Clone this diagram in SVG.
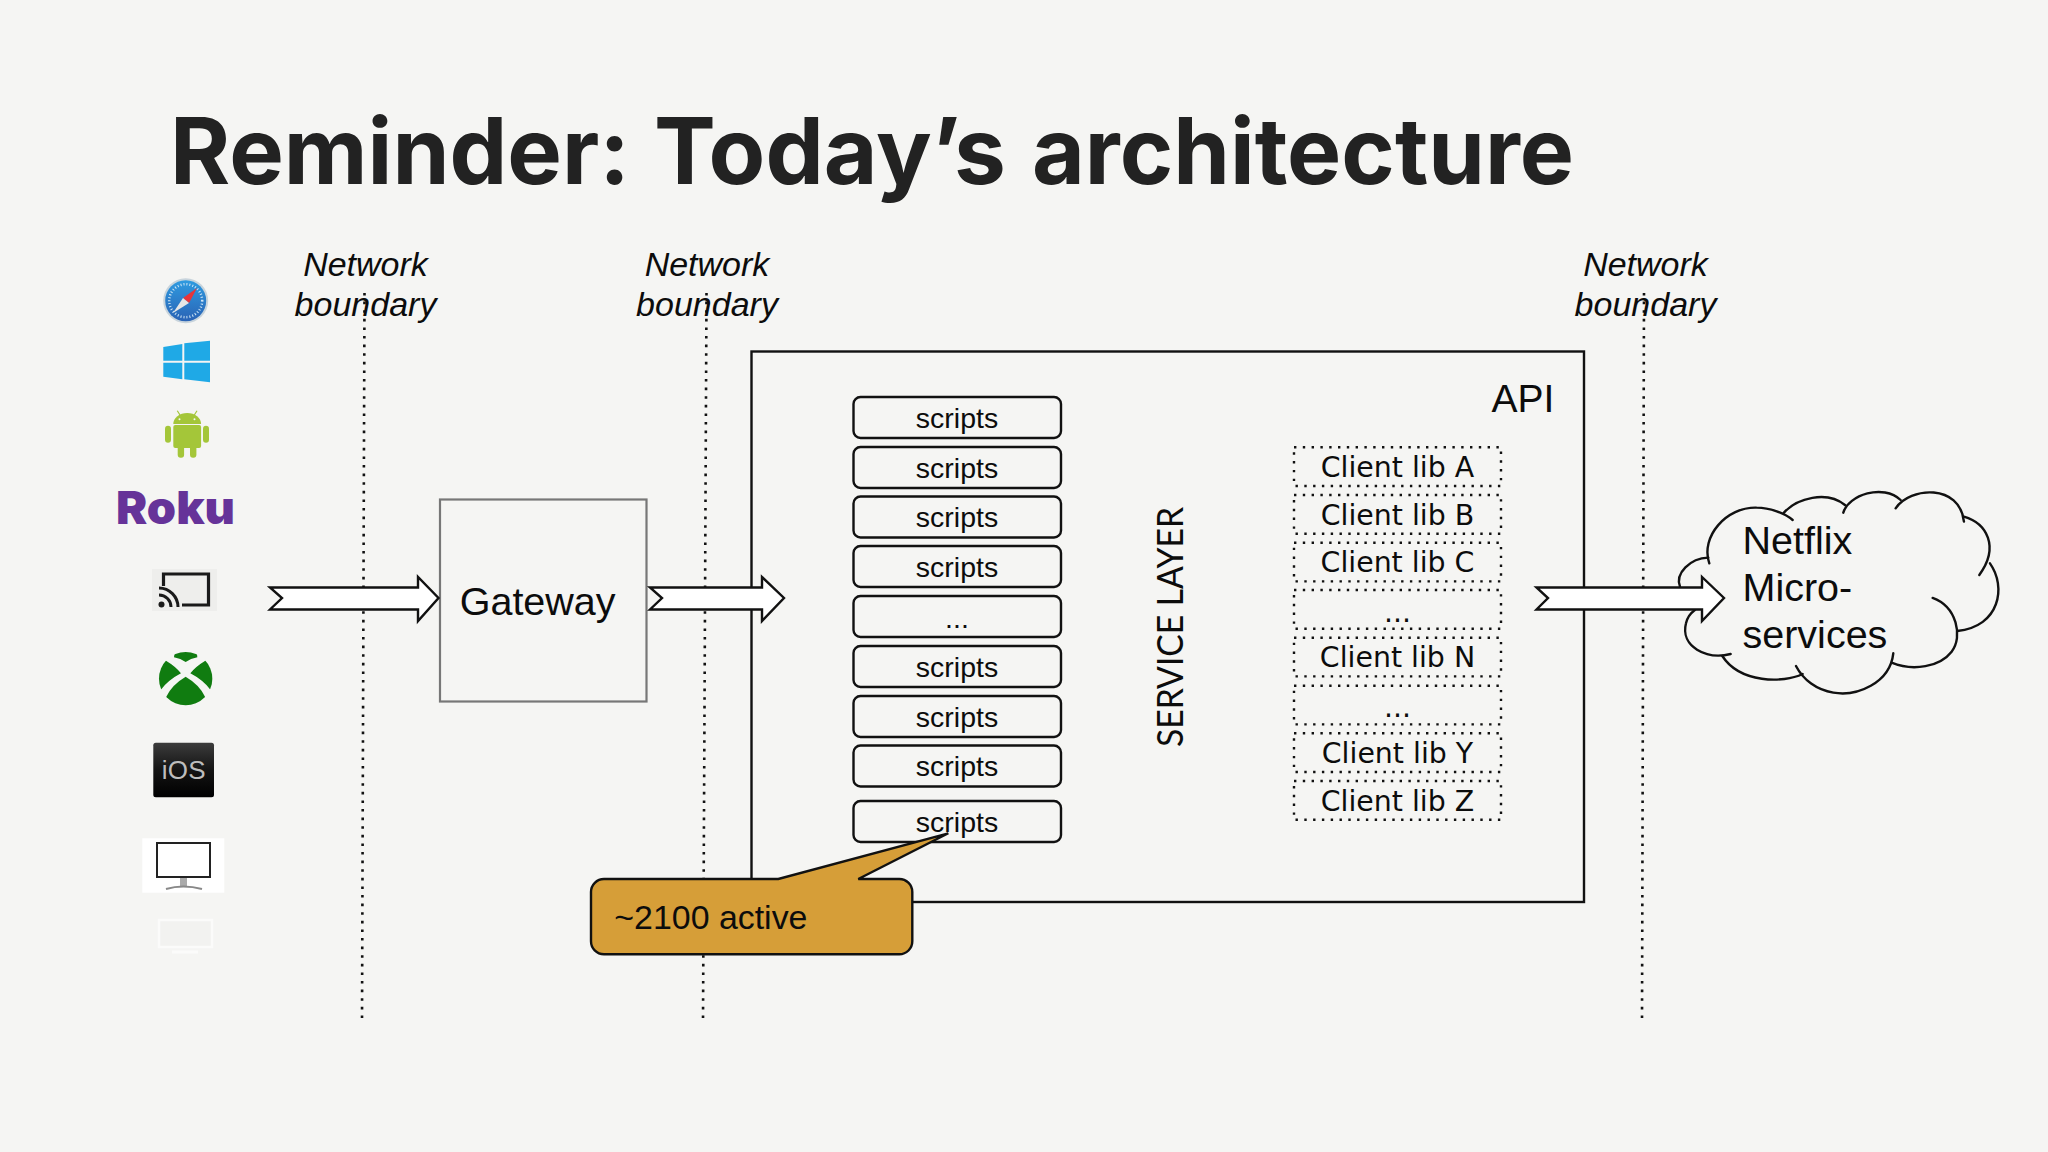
<svg xmlns="http://www.w3.org/2000/svg" width="2048" height="1152" viewBox="0 0 2048 1152">
<style>
text{font-family:"Liberation Sans",Arial,sans-serif;fill:#0c0c0c}
.nb{font-size:34px;font-style:italic;text-anchor:middle}
.dot{stroke:#111;stroke-width:2.6;stroke-dasharray:2.6 6;fill:none}
.arrow{fill:#fff;stroke:#111;stroke-width:2.4;stroke-linejoin:miter}
.sb{fill:none;stroke:#111;stroke-width:2.4}
.st{font-size:28.5px;text-anchor:middle}
.cb{fill:none;stroke:#111;stroke-width:2.4;stroke-dasharray:2.4 6.4}
.ct{font-family:"DejaVu Sans",sans-serif;font-size:28.4px;text-anchor:middle}
.big{font-size:39.5px}
</style>
<defs>
<linearGradient id="iosg" x1="0" y1="0" x2="0" y2="1"><stop offset="0" stop-color="#3c3c3c"/><stop offset="0.5" stop-color="#141414"/><stop offset="1" stop-color="#000"/></linearGradient>
<linearGradient id="safg" x1="0" y1="0" x2="0" y2="1"><stop offset="0" stop-color="#2f9be0"/><stop offset="1" stop-color="#2a63b5"/></linearGradient>
<clipPath id="xclip"><circle cx="257" cy="116" r="80"/></clipPath>
</defs>
<rect width="2048" height="1152" fill="#f5f5f3"/>
<text id="title" y="184" font-size="92" font-weight="700" style="font-family:Inter,'Liberation Sans',sans-serif;fill:#222"><tspan x="170" textLength="460" lengthAdjust="spacingAndGlyphs">Reminder:</tspan> <tspan x="654" textLength="352" lengthAdjust="spacingAndGlyphs">Today’s</tspan> <tspan x="1032" textLength="542" lengthAdjust="spacingAndGlyphs">architecture</tspan></text>

<g id="boundaries">
<path class="dot" d="M364.500 293L362 1022"/>
<path class="dot" d="M706.500 293L703 1022"/>
<path class="dot" d="M1644 293L1642 1022"/>
<text class="nb" x="365.500" y="275.500">Network</text><text class="nb" x="365.500" y="316">boundary</text>
<text class="nb" x="707" y="275.500">Network</text><text class="nb" x="707" y="316">boundary</text>
<text class="nb" x="1645.500" y="275.500">Network</text><text class="nb" x="1645.500" y="316">boundary</text>
</g>

<g id="icons">
<g id="safari"><circle cx="185.700" cy="300.700" r="22.500" fill="#c8d4dc"/><circle cx="185.700" cy="300.700" r="20.500" fill="url(#safg)"/><circle cx="185.700" cy="300.700" r="16.500" fill="none" stroke="#cfe6f6" stroke-width="2.500" stroke-dasharray="1 2"/><polygon points="197,288 183,298 189,303" fill="#e8343a"/><polygon points="173,313 183,298 189,303" fill="#e6e6e6"/></g>
<g id="windows" fill="#1fa9e6"><polygon points="163.300,347 182.300,344 182.300,360.700 163.300,360.700"/><polygon points="184.300,343.300 210,340.700 210,360.700 184.300,360.700"/><polygon points="163.300,362.700 182.300,362.700 182.300,379.300 163.300,376.700"/><polygon points="184.300,362.700 210,362.700 210,382.300 184.300,379.300"/></g>
<g id="android" fill="#a4c639"><path d="M173.300 424a13.900 11 0 0 1 27.800 0z"/><rect x="173.300" y="425" width="27.800" height="23" rx="2"/><rect x="165" y="425.700" width="6" height="17" rx="3"/><rect x="203" y="425.700" width="6" height="17" rx="3"/><rect x="177.700" y="444" width="6.400" height="13.700" rx="3"/><rect x="190" y="444" width="6.400" height="13.700" rx="3"/><path d="M177.300 410.700L180 415M197 410.700L194.300 415" stroke="#a4c639" stroke-width="1.200"/><circle cx="179.500" cy="419.300" r="1" fill="#f5f5f3"/><circle cx="194.500" cy="419.300" r="1" fill="#f5f5f3"/></g>
<text id="roku" x="116" y="524" font-size="46" font-weight="900" textLength="119" lengthAdjust="spacingAndGlyphs" style="font-family:Inter,'Liberation Sans',sans-serif;fill:#663399">Roku</text>
<g id="cast"><rect x="152" y="569" width="65" height="42" fill="#eeeeec"/><path d="M163.500 586V574H208.500V605H182" fill="none" stroke="#1a1a1a" stroke-width="3.200"/><path d="M159 588A19 19 0 0 1 178 607M159 595A12 12 0 0 1 171 607" fill="none" stroke="#1a1a1a" stroke-width="3"/><circle cx="161.500" cy="604.500" r="3" fill="#1a1a1a"/></g>
<g id="xbox" transform="translate(100 640) scale(.3333)"><g clip-path="url(#xclip)" fill="#107c10">
<path d="M225 30H290L292 52Q272 55 257 66Q242 55 222 52Z"/>
<path d="M160 30L198 62Q228 80 243 100Q205 120 184 148L160 160Z"/>
<path d="M354 30L316 62Q286 80 271 100Q309 120 330 148L354 160Z"/>
<path d="M257 110Q300 135 316 172V200H198V172Q214 135 257 110Z"/>
</g></g>
<g id="ios"><rect x="153.300" y="742.700" width="60.700" height="54.600" rx="2.500" fill="url(#iosg)"/><text x="183.700" y="779" font-size="26" text-anchor="middle" textLength="44" style="fill:#bdbdbd">iOS</text></g>
<g id="monitor"><rect x="142.300" y="838.300" width="82" height="54.400" fill="#fff"/><rect x="157" y="843" width="53" height="34" fill="#fff" stroke="#222" stroke-width="2"/><rect x="180" y="878" width="7" height="8" fill="#aaa"/><path d="M166 889Q183 884 202 889" fill="none" stroke="#888" stroke-width="2"/></g>
<g id="monitor-faint" fill="none" stroke="#fbfbfa" stroke-width="2.500"><rect x="159" y="920" width="53" height="27" fill="#f2f2f0"/><path d="M172 952H198" stroke-width="3"/></g>
</g>

<g id="api"><rect x="751.500" y="351.500" width="832.500" height="550.500" fill="none" stroke="#111" stroke-width="2.400"/><text x="1491.500" y="411.500" font-size="39">API</text></g>

<g id="scripts">
<g id="s1"><rect class="sb" x="853.500" y="397" width="207.500" height="41" rx="7"/><text class="st" x="957" y="428">scripts</text></g>
<g id="s2"><rect class="sb" x="853.500" y="447" width="207.500" height="41" rx="7"/><text class="st" x="957" y="478">scripts</text></g>
<g id="s3"><rect class="sb" x="853.500" y="496.500" width="207.500" height="41" rx="7"/><text class="st" x="957" y="527">scripts</text></g>
<g id="s4"><rect class="sb" x="853.500" y="546" width="207.500" height="41" rx="7"/><text class="st" x="957" y="577">scripts</text></g>
<g id="s5"><rect class="sb" x="853.500" y="596" width="207.500" height="41" rx="7"/><text class="st" x="957" y="627.500">...</text></g>
<g id="s6"><rect class="sb" x="853.500" y="646" width="207.500" height="41" rx="7"/><text class="st" x="957" y="677">scripts</text></g>
<g id="s7"><rect class="sb" x="853.500" y="696" width="207.500" height="41" rx="7"/><text class="st" x="957" y="726.500">scripts</text></g>
<g id="s8"><rect class="sb" x="853.500" y="745.500" width="207.500" height="41" rx="7"/><text class="st" x="957" y="776">scripts</text></g>
<g id="s9"><rect class="sb" x="853.500" y="801" width="207.500" height="41" rx="7"/><text class="st" x="957" y="832">scripts</text></g>
</g>

<text id="service-layer" transform="translate(1182.700 627) rotate(-90)" font-size="36" text-anchor="middle" textLength="240" lengthAdjust="spacingAndGlyphs" style="font-family:Lato,'Liberation Sans',sans-serif">SERVICE LAYER</text>

<g id="clients">
<g id="c1"><rect class="cb" x="1294" y="447.300" width="207" height="38.700"/><text class="ct" x="1397.500" y="477">Client lib A</text></g>
<g id="c2"><rect class="cb" x="1294" y="495" width="207" height="38.700"/><text class="ct" x="1397.500" y="524.500">Client lib B</text></g>
<g id="c3"><rect class="cb" x="1294" y="542.700" width="207" height="38.700"/><text class="ct" x="1397.500" y="572">Client lib C</text></g>
<g id="c4"><rect class="cb" x="1294" y="590" width="207" height="38.700"/><text class="ct" x="1397.500" y="621.500">...</text></g>
<g id="c5"><rect class="cb" x="1294" y="637.700" width="207" height="38.700"/><text class="ct" x="1397.500" y="667">Client lib N</text></g>
<g id="c6"><rect class="cb" x="1294" y="685.700" width="207" height="38.700"/><text class="ct" x="1397.500" y="717">...</text></g>
<g id="c7"><rect class="cb" x="1294" y="733.300" width="207" height="38.700"/><text class="ct" x="1397.500" y="763">Client lib Y</text></g>
<g id="c8"><rect class="cb" x="1294" y="781" width="207" height="38.700"/><text class="ct" x="1397.500" y="810.500">Client lib Z</text></g>
</g>

<g id="gateway"><rect x="440" y="499.500" width="206.500" height="202" fill="#f5f5f3" stroke="#777" stroke-width="2.200"/><text class="big" x="459.700" y="615">Gateway</text></g>

<g id="cloud"><g transform="translate(1520 470) scale(.3333)"><g stroke-width="7.200" fill="none" stroke="#111" stroke-linecap="round">
<path d="M568 280C540 200 620 110 710 113C750 113 795 130 818 150"/>
<path d="M792 128C830 85 920 60 975 105"/>
<path d="M970 128C985 75 1090 40 1142 90"/>
<path d="M1127 115C1170 50 1320 40 1332 155"/>
<path d="M1332 140C1400 160 1440 230 1378 315"/>
<path d="M1410 280C1460 350 1440 470 1312 483"/>
<path d="M1238 384C1310 410 1330 500 1295 545C1260 590 1180 605 1115 578"/>
<path d="M1120 550C1110 640 1010 680 940 668C890 660 850 630 828 588"/>
<path d="M848 612C790 640 660 640 607 558"/>
<path d="M632 552C560 570 480 530 498 460C505 430 520 425 525 420"/>
<path d="M480 350C465 310 510 265 565 263"/>
</g></g>
<text class="big" x="1742.500" y="554">Netflix</text><text class="big" x="1742.500" y="601">Micro-</text><text class="big" x="1742.500" y="648">services</text></g>

<g id="connectors">
<path class="arrow" d="M270 587.500H418V577L438.500 598L418 621V609.500H270L282 598Z"/>
<path class="arrow" d="M650 587.500H762V577L784 598L762 621V609.500H650L662 598Z"/>
<path class="arrow" d="M1536.500 587.500H1702V577L1724 598L1702 621V609.500H1536.500L1548 598Z"/>
</g>

<g id="callout"><path d="M604 879H778.300L948.300 833.300L858.300 879H899A13 13 0 0 1 912.300 892V941A13 13 0 0 1 899 954.300H604A13 13 0 0 1 591 941V892A13 13 0 0 1 604 879Z" fill="#d69e38" stroke="#111" stroke-width="2.400"/><text x="614.300" y="929" font-size="33.900">~2100 active</text></g>
</svg>
